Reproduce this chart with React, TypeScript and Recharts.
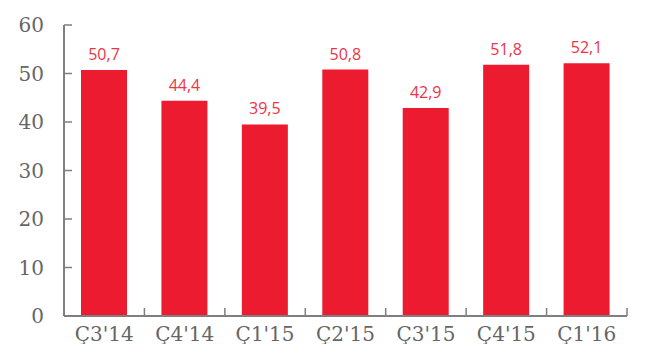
import React from 'react';
import { BarChart, Bar, XAxis, YAxis, LabelList } from 'recharts';

const categories = ["Ç3'14", "Ç4'14", "Ç1'15", "Ç2'15", "Ç3'15", "Ç4'15", "Ç1'16"];
const values = [50.7, 44.4, 39.5, 50.8, 42.9, 51.8, 52.1];
const yTicks = [0, 10, 20, 30, 40, 50, 60];

const data = categories.map((c, i) => ({ name: c, value: values[i] }));

const axisColor = '#7f7f7f';
const labelColor = '#666666';
const serif = 'DejaVu Serif';
const X_MARGIN = 11;
const Y_MARGIN = 12;
const TICK_LEN = 8;

const XTick = (props: any) => {
  const { x, y, payload, index, visibleTicksCount } = props;
  const axisY = y - X_MARGIN;
  const off = payload.offset || 0;
  const left = payload.coordinate - off;
  const right = payload.coordinate + off;
  return (
    <g>
      <line x1={left} x2={left} y1={axisY - TICK_LEN} y2={axisY} stroke={axisColor} strokeWidth={1.5} />
      {index === visibleTicksCount - 1 && (
        <line x1={right} x2={right} y1={axisY - TICK_LEN} y2={axisY} stroke={axisColor} strokeWidth={1.5} />
      )}
      <text x={x} y={y} dy="0.71em" textAnchor="middle" fontFamily={serif} fontSize={20} fill={labelColor}>
        {payload.value}
      </text>
    </g>
  );
};

const YTick = (props: any) => {
  const { x, y, payload } = props;
  const axisX = x + Y_MARGIN;
  return (
    <g>
      <line x1={axisX} x2={axisX + TICK_LEN} y1={y} y2={y} stroke={axisColor} strokeWidth={1.5} />
      <text x={x - 8} y={y} dy="0.355em" textAnchor="end" fontFamily={serif} fontSize={20} fill={labelColor}>
        {payload.value}
      </text>
    </g>
  );
};

export default function App() {
  return (
    <div style={{ width: 646, height: 336 }}>
      <BarChart
        width={646}
        height={344}
        data={data}
        margin={{ top: 17, right: 27, left: 0, bottom: 0 }}
      >
        <XAxis
          dataKey="name"
          height={36}
          tickLine={false}
          tickSize={0}
          tickMargin={X_MARGIN}
          axisLine={{ stroke: axisColor, strokeWidth: 2 }}
          tick={<XTick />}
          interval={0}
        />
        <YAxis
          width={56}
          domain={[0, 60]}
          ticks={yTicks}
          interval={0}
          axisLine={{ stroke: axisColor, strokeWidth: 2 }}
          tickLine={false}
          tickSize={0}
          tickMargin={Y_MARGIN}
          tick={<YTick />}
        />
        <Bar dataKey="value" fill="#ED1B2F" barSize={46} isAnimationActive={false}>
          <LabelList
            dataKey="value"
            position="top"
            offset={10}
            formatter={(v: number) => v.toFixed(1).replace('.', ',')}
            style={{ fontFamily: 'Open Sans', fontSize: 16, fill: '#EE3347' }}
          />
        </Bar>
      </BarChart>
    </div>
  );
}
